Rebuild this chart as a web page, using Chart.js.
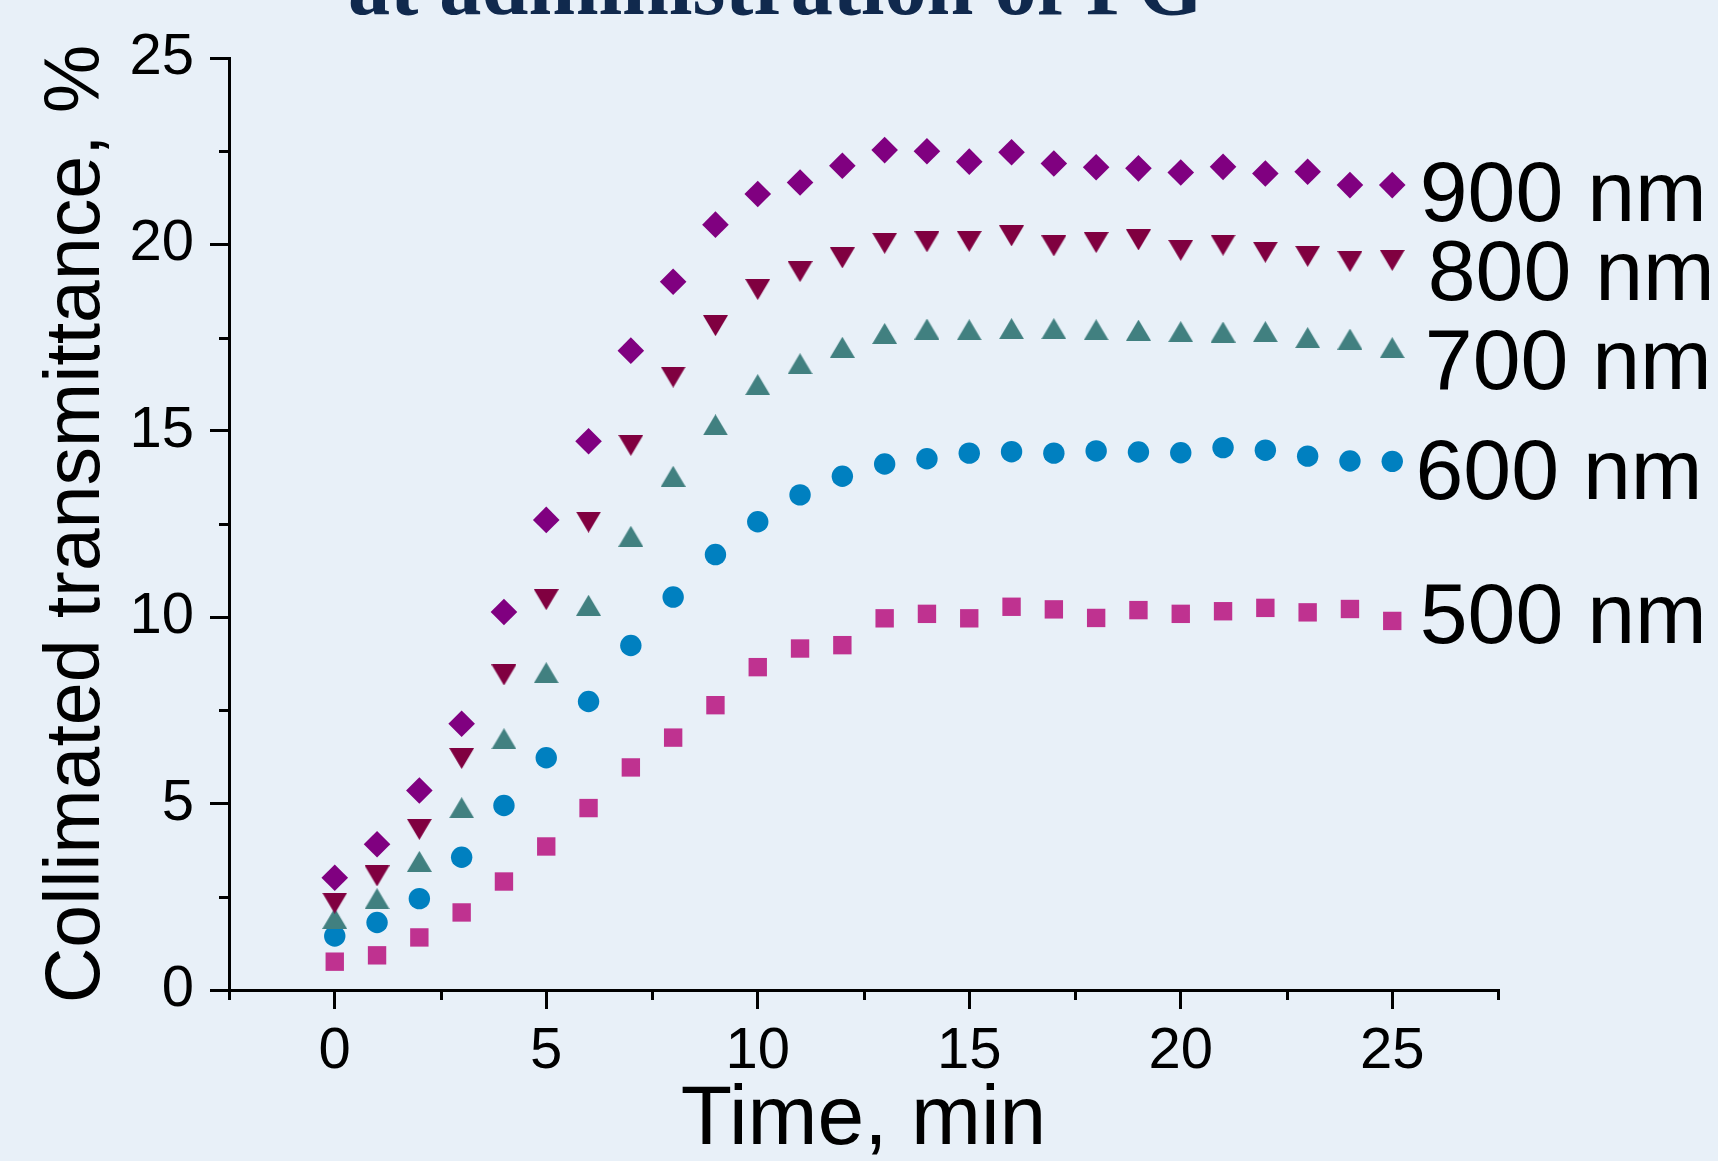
<!DOCTYPE html>
<html>
<head>
<meta charset="utf-8">
<script src="https://cdn.jsdelivr.net/npm/chart.js@4.4.1/dist/chart.umd.min.js"></script>
<style>
  html, body { margin: 0; padding: 0; background: #E8F0F8; }
  #wrap { width: 1718px; height: 1161px; }
</style>
</head>
<body>
<div id="wrap"><canvas id="c" width="1718" height="1161"></canvas></div>
<script>
// ---------- data ----------
const timeMin = [0,1,2,3,4,5,6,7,8,9,10,11,12,13,14,15,16,17,18,19,20,21,22,23,24,25];
const t900 = [3.01,3.91,5.35,7.14,10.14,12.61,14.72,17.15,19.00,20.53,21.35,21.66,22.11,22.53,22.50,22.22,22.47,22.17,22.07,22.04,21.93,22.08,21.90,21.95,21.59,21.59];
const t800 = [2.33,3.06,4.31,6.21,8.45,10.47,12.55,14.61,16.44,17.82,18.79,19.27,19.64,20.03,20.07,20.08,20.23,19.96,20.05,20.12,19.84,19.98,19.79,19.68,19.54,19.57];
const t700 = [1.92,2.45,3.45,4.89,6.74,8.51,10.32,12.17,13.78,15.16,16.24,16.80,17.24,17.61,17.73,17.71,17.74,17.74,17.71,17.70,17.66,17.65,17.66,17.50,17.46,17.23];
const t600 = [1.45,1.81,2.45,3.56,4.95,6.23,7.74,9.24,10.54,11.68,12.56,13.28,13.78,14.11,14.25,14.40,14.44,14.40,14.46,14.43,14.41,14.55,14.48,14.32,14.19,14.18];
const t500 = [0.76,0.93,1.41,2.08,2.91,3.85,4.88,5.97,6.77,7.64,8.66,9.16,9.25,9.97,10.09,9.97,10.28,10.21,9.98,10.19,10.09,10.16,10.25,10.13,10.22,9.90];
const seriesNames = ['900 nm','800 nm','700 nm','600 nm','500 nm'];
const xTickValues = [0,5,10,15,20,25];
const yTickValues = [0,5,10,15,20,25];
const xMinorTicks = [-2.5,2.5,7.5,12.5,17.5,22.5,27.5];
const yMinorTicks = [2.5,7.5,12.5,17.5,22.5];
const titleText = 'at administration of PG';
const xTitle = 'Time, min';
const yTitle = 'Collimated transmittance, %';

// ---------- styles ----------
const COLORS = ['#800080', '#800040', '#418080', '#0080C0', '#BF3290'];
const SANS = '"Liberation Sans", Arial, sans-serif';
const SERIF = '"Liberation Serif", "Times New Roman", serif';

function triCanvas(color, down) {
  const w = 25, h = 21;
  const c = document.createElement('canvas');
  c.width = w; c.height = h;
  const g = c.getContext('2d');
  g.fillStyle = color;
  g.beginPath();
  if (down) { g.moveTo(0, 0); g.lineTo(w, 0); g.lineTo(w / 2, h); }
  else { g.moveTo(w / 2, 0); g.lineTo(w, h); g.lineTo(0, h); }
  g.closePath();
  g.fill();
  return c;
}

const seriesValues = [t900, t800, t700, t600, t500];
const markerStyles = [
  { pointStyle: 'rectRot', radius: 13.3 },
  { pointStyle: triCanvas(COLORS[1], true), radius: 12 },
  { pointStyle: triCanvas(COLORS[2], false), radius: 12 },
  { pointStyle: 'circle', radius: 10.7 },
  { pointStyle: 'rect', radius: 13 }
];

const datasets = seriesValues.map((vals, k) => ({
  label: seriesNames[k],
  data: timeMin.map((t, i) => ({ x: t, y: vals[i] })),
  showLine: false,
  pointStyle: markerStyles[k].pointStyle,
  pointRadius: markerStyles[k].radius,
  pointHoverRadius: markerStyles[k].radius,
  backgroundColor: COLORS[k],
  borderColor: COLORS[k],
  pointBorderWidth: 0,
  borderWidth: 0
}));

// label anchors (data units): left x and baseline y
const labelAnchors = [
  { x: 25.65, y: 20.62 },
  { x: 25.84, y: 18.51 },
  { x: 25.77, y: 16.11 },
  { x: 25.55, y: 13.17 },
  { x: 25.65, y: 9.31 }
];

const decorPlugin = {
  id: 'decor',
  beforeDraw(chart) {
    const ctx = chart.ctx;
    ctx.save();
    ctx.fillStyle = '#E8F0F8';
    ctx.fillRect(0, 0, chart.width, chart.height);
    ctx.restore();
  },
  afterDraw(chart) {
    const ctx = chart.ctx;
    const xs = chart.scales.x, ys = chart.scales.y;
    const ca = chart.chartArea;
    ctx.save();
    // minor ticks
    ctx.strokeStyle = '#000';
    ctx.lineWidth = 3;
    ctx.lineCap = 'butt';
    xMinorTicks.forEach(v => {
      const px = Math.round(xs.getPixelForValue(v)) + 0.5;
      ctx.beginPath(); ctx.moveTo(px, ca.bottom); ctx.lineTo(px, ca.bottom + 10); ctx.stroke();
    });
    yMinorTicks.forEach(v => {
      const py = Math.round(ys.getPixelForValue(v)) + 0.5;
      ctx.beginPath(); ctx.moveTo(ca.left - 10, py); ctx.lineTo(ca.left, py); ctx.stroke();
    });
    // series labels
    ctx.fillStyle = '#000';
    ctx.font = '86px ' + SANS;
    ctx.textAlign = 'left';
    ctx.textBaseline = 'alphabetic';
    seriesNames.forEach((name, k) => {
      const a = labelAnchors[k];
      ctx.fillText(name, xs.getPixelForValue(a.x), ys.getPixelForValue(a.y));
    });
    // cut-off slide title, fitted to the width it has in the slide
    ctx.fillStyle = '#10294D';
    ctx.font = 'bold 89px ' + SERIF;
    const w = ctx.measureText(titleText).width;
    const target = 855;
    ctx.translate(348, 14);
    ctx.scale(target / w, 1);
    ctx.fillText(titleText, 0, 0);
    ctx.restore();
  }
};

new Chart(document.getElementById('c'), {
  type: 'scatter',
  data: { datasets },
  plugins: [decorPlugin],
  options: {
    responsive: false,
    animation: false,
    devicePixelRatio: 1,
    events: [],
    layout: { padding: { left: 0, top: 58, right: 220, bottom: 0 } },
    plugins: { legend: { display: false }, tooltip: { enabled: false } },
    scales: {
      x: {
        type: 'linear', position: 'bottom', min: -2.5, max: 27.5,
        afterFit(s) { s.height = 171; },
        afterBuildTicks(s) { s.ticks = xTickValues.map(v => ({ value: v })); },
        ticks: { font: { family: SANS, size: 58 }, color: '#000', padding: 8, maxRotation: 0, autoSkip: false },
        grid: { drawOnChartArea: false, drawTicks: true, tickLength: 19, tickWidth: 3, tickColor: '#000', lineWidth: 3, color: '#000' },
        border: { display: true, color: '#000', width: 3 },
        title: { display: true, text: xTitle, color: '#000', font: { family: SANS, size: 84, lineHeight: 1 }, padding: { top: 0, bottom: -2 } }
      },
      y: {
        type: 'linear', position: 'left', min: 0, max: 25,
        afterFit(s) { s.width = 229; },
        afterBuildTicks(s) { s.ticks = yTickValues.map(v => ({ value: v })); },
        ticks: { font: { family: SANS, size: 58 }, color: '#000', padding: 16, autoSkip: false },
        grid: { drawOnChartArea: false, drawTicks: true, tickLength: 19, tickWidth: 3, tickColor: '#000', lineWidth: 3, color: '#000' },
        border: { display: true, color: '#000', width: 3 },
        title: { display: true, text: yTitle, color: '#000', font: { family: SANS, size: 77, lineHeight: 1 }, padding: { top: 39, bottom: 0 }, align: 'center' }
      }
    }
  }
});
</script>
</body>
</html>
